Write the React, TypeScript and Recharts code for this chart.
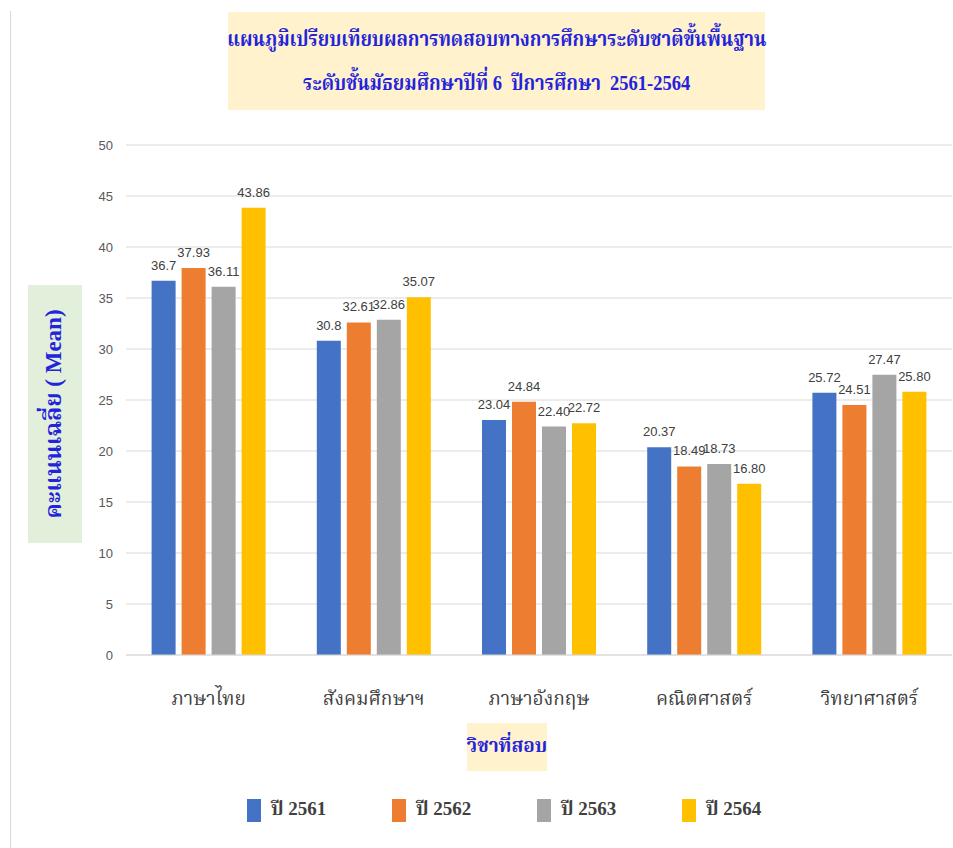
import React from "react";
import { BarChart, Bar, XAxis, YAxis, CartesianGrid, LabelList } from "recharts";

const subjects = ["ภาษาไทย", "สังคมศึกษาฯ", "ภาษาอังกฤษ", "คณิตศาสตร์", "วิทยาศาสตร์"];
const y2561 = [36.7, 30.8, 23.04, 20.37, 25.72];
const y2562 = [37.93, 32.61, 24.84, 18.49, 24.51];
const y2563 = [36.11, 32.86, 22.4, 18.73, 27.47];
const y2564 = [43.86, 35.07, 22.72, 16.8, 25.8];
const yTicks = [0, 5, 10, 15, 20, 25, 30, 35, 40, 45, 50];

const series = [
  { key: "y2561", name: "ปี 2561", color: "#4472C4", fmt: (v: number) => String(v) },
  { key: "y2562", name: "ปี 2562", color: "#ED7D31", fmt: (v: number) => v.toFixed(2) },
  { key: "y2563", name: "ปี 2563", color: "#A5A5A5", fmt: (v: number) => v.toFixed(2) },
  { key: "y2564", name: "ปี 2564", color: "#FFC000", fmt: (v: number) => v.toFixed(2) },
];

const chartData = subjects.map((subject, i) => ({
  subject,
  y2561: y2561[i],
  y2562: y2562[i],
  y2563: y2563[i],
  y2564: y2564[i],
}));

const blue = "#2323dc";
const thaiSerif = "'Liberation Serif', 'Noto Serif Thai', 'Noto Sans Thai', serif";
const labelFont = "'Liberation Sans Narrow', 'Liberation Sans', Arial, sans-serif";

// legend drawn as plain html so it doesn't eat into the plot area
const ChartLegend = () => (
  <div style={{ position: "absolute", left: 247, top: 795, display: "flex" }}>
    {series.map((s) => (
      <div key={s.key} style={{ display: "flex", alignItems: "center", width: 145 }}>
        <span style={{ display: "inline-block", width: 14, height: 23, background: s.color, marginRight: 10 }} />
        <span style={{ fontFamily: thaiSerif, fontWeight: "bold", fontSize: 19, color: "#404040" }}>{s.name}</span>
      </div>
    ))}
  </div>
);

export default function App() {
  return (
    <div style={{ position: "absolute", left: 0, top: 0, width: 953, height: 848, background: "#fff", overflow: "hidden" }}>
      <div style={{ position: "absolute", left: 10, top: 11, width: 1, height: 837, background: "#d9d9d9" }} />
      <BarChart
        width={953}
        height={848}
        data={chartData}
        margin={{ top: 145, right: 1, left: 0, bottom: 163 }}
        barCategoryGap="15.5%"
        barGap={6}
      >
        <CartesianGrid vertical={false} stroke="#d9d9d9" />
        <XAxis
          dataKey="subject"
          height={30}
          axisLine={{ stroke: "#d9d9d9" }}
          tickLine={false}
          tickMargin={31}
          tick={{ fill: "#404040", fontSize: 19, fontFamily: thaiSerif }}
          interval={0}
        />
        <YAxis
          width={126}
          domain={[0, 50]}
          ticks={yTicks}
          axisLine={false}
          tickLine={false}
          tickMargin={7}
          tick={{ fill: "#595959", fontSize: 13, fontFamily: labelFont }}
        />
        {series.map((s) => (
          <Bar key={s.key} dataKey={s.key} name={s.name} fill={s.color} isAnimationActive={false}>
            <LabelList
              dataKey={s.key}
              position="top"
              offset={11}
              formatter={(v: any) => s.fmt(Number(v))}
              style={{ fill: "#404040", fontSize: 13, fontFamily: labelFont }}
            />
          </Bar>
        ))}
      </BarChart>

      <ChartLegend />

      <div
        style={{
          position: "absolute", left: 228, top: 12, width: 537, height: 98, background: "#FFF2CC",
          color: blue, fontFamily: thaiSerif, fontWeight: "bold", fontSize: 22,
          display: "flex", flexDirection: "column", justifyContent: "center", alignItems: "center",
          lineHeight: "44px", whiteSpace: "nowrap",
        }}
      >
        <div style={{ transform: "scaleX(0.84)" }}>แผนภูมิเปรียบเทียบผลการทดสอบทางการศึกษาระดับชาติขั้นพื้นฐาน</div>
        <div style={{ transform: "scaleX(0.84)" }}>ระดับชั้นมัธยมศึกษาปีที่ 6&nbsp; ปีการศึกษา&nbsp; 2561-2564</div>
      </div>

      <div
        style={{
          position: "absolute", left: 28, top: 285, width: 54, height: 258, background: "#E2EFDA",
          display: "flex", alignItems: "center", justifyContent: "center",
        }}
      >
        <div
          style={{
            transform: "rotate(-90deg)", whiteSpace: "nowrap", color: blue, fontFamily: thaiSerif,
            fontWeight: "bold", fontSize: 23,
          }}
        >
          คะแนนเฉลี่ย ( Mean)
        </div>
      </div>

      <div
        style={{
          position: "absolute", left: 467, top: 723, width: 80, height: 48, background: "#FFF2CC",
          display: "flex", alignItems: "center", justifyContent: "center", color: blue,
          fontFamily: thaiSerif, fontWeight: "bold", fontSize: 19, whiteSpace: "nowrap",
        }}
      >
        วิชาที่สอบ
      </div>
    </div>
  );
}
